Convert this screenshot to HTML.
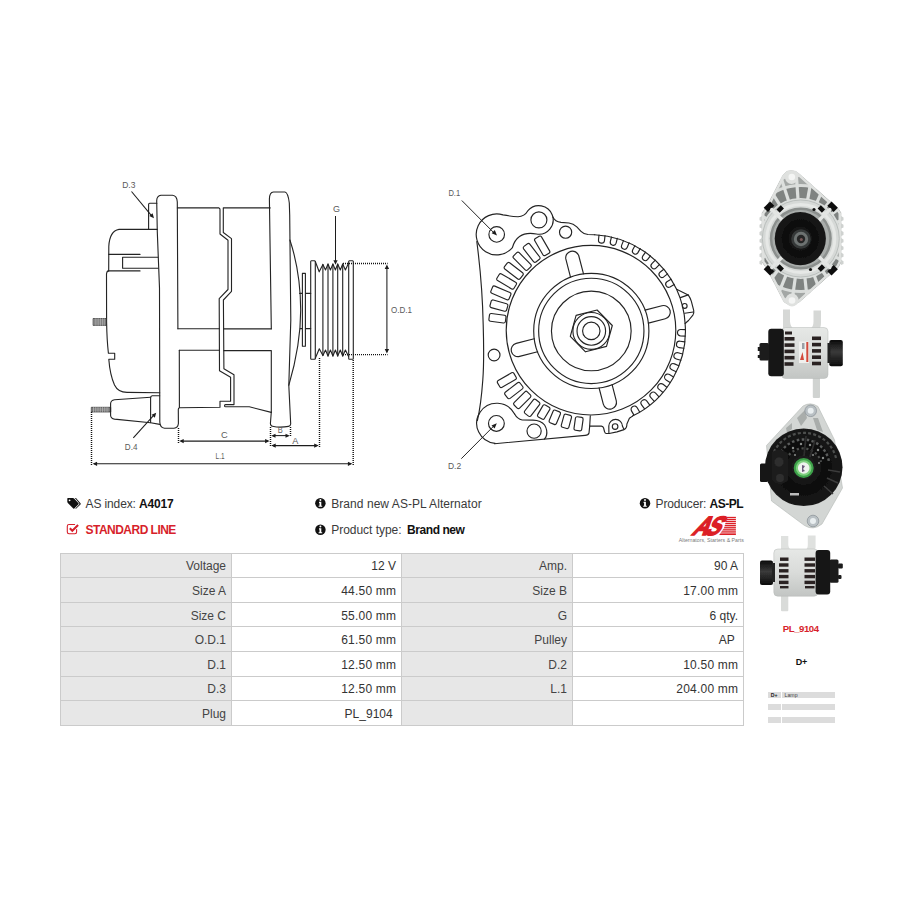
<!DOCTYPE html>
<html>
<head>
<meta charset="utf-8">
<title>A4017</title>
<style>
html,body{margin:0;padding:0;background:#fff;}
body{width:900px;height:900px;position:relative;overflow:hidden;font-family:"Liberation Sans",sans-serif;color:#333;}
.abs{position:absolute;white-space:nowrap;}
.t12{font-size:12px;line-height:14px;color:#3a3a3a;}
.t12 b{color:#111;}
#draw{position:absolute;left:0;top:0;width:900px;height:900px;}
table.spec{position:absolute;left:59.5px;top:552.7px;width:683px;border-collapse:collapse;table-layout:fixed;font-size:12px;color:#444;}
table.spec td{height:24.57px;padding:2px 4.5px 0 0;text-align:right;border:1px solid #cbcbcb;box-sizing:border-box;vertical-align:middle;line-height:14px;}
table.spec td.l{background:#e7e7e7;}
table.spec td.v{background:#fff;color:#333;}
table.spec td.m{letter-spacing:0.2px;padding-right:4.3px;}
</style>
</head>
<body>
<!--DRAW-->
<svg id="draw" viewBox="0 0 900 900">
<!--SIDE-->
<g id="side" fill="none" stroke="#242424" stroke-width="1.12" stroke-linejoin="round" stroke-linecap="round">
<!-- rear cover -->
<path d="M157.2,229.400 L119,229.400 Q109.600,231 108.800,246.500 L108.700,271"/>
<path d="M108.800,254.400 L140,254.400"/>
<path d="M108,270.900 L140,270.900"/>
<path d="M157.800,257.200 L122.600,257.200 L122.600,268.300 L158.200,268.300"/>
<path d="M108.300,270.900 Q106.500,271.500 106.500,274 L106.600,322 Q106.900,340 108.400,353.300 L114.700,353.300 L114.700,359.300 L108.800,359.300 Q110,375 114.500,385 Q118,392.300 127,392.400 L159.700,392.800"/>
<!-- small tab D.3 -->
<path d="M156.800,203.300 L149.700,203.300 Q148.600,203.400 148.600,204.600 L148.600,229.400"/>
<!-- main left flange -->
<path d="M177.900,328.800 L177.300,202 Q177,195.800 172.500,195.300 L161,195.300 Q156.900,195.800 156.700,200.500 L157.300,232 L159.500,288 L159.800,422 Q160,427.700 164.500,428.200 L174,428.200 Q178,427.800 178.400,423.500 L178.300,409.500 Q178.300,408 179.400,407.800 L179.300,350.300"/>
<!-- studs -->
<rect x="93.500" y="318.500" width="13" height="6.900" fill="#777" stroke-width="0.700"/>
<path d="M95.200,318.500V325.400M97,318.500V325.400M98.800,318.500V325.400M100.600,318.500V325.400M102.400,318.500V325.400M104.200,318.500V325.400" stroke="#ddd" stroke-width="0.5"/>
<rect x="91.700" y="407.300" width="19" height="4.700" fill="#777" stroke-width="0.700"/>
<path d="M93.500,407.300V412M95.300,407.300V412M97.100,407.300V412M98.900,407.300V412M100.700,407.300V412M102.500,407.300V412M104.300,407.300V412M106.100,407.300V412M107.900,407.300V412" stroke="#ddd" stroke-width="0.5"/>
<!-- D.4 terminal -->
<path d="M150.600,397.200 L114.500,399.700 Q110.800,400.300 110.600,403.500 L110.600,415.500 Q110.900,418.600 114.500,419.100 L150.600,422.800 L159.800,424.400"/>
<path d="M159.700,395.800 L152.200,395.800 Q150.700,396 150.600,397.800 L150.600,422.600"/>
<!-- upper body rects -->
<path d="M177.400,207.900 L219,207.900 Q220,208.300 220,209.500 L220,234 L228,240.200 L228,289.500 L219.200,298.600 L219.500,370.700 L230.600,377.300 L230.600,401.300 L220,401.300 L220,407.200 L179.400,407.800"/>
<path d="M270.200,207.900 L223.300,207.900 L223.300,232.500 L231.500,238.600 L231.500,291.300 L223.400,300 L223.900,368.700 L234,374.700 L234,404.600 L225.600,404.600 Q224.500,404.700 224.500,405.700 Q224.500,406.800 225.700,406.800 L249.300,406.800 L271.200,412.400"/>
<path d="M177.900,328.700 L219.400,328.700 M223.600,328.900 L271.300,328.900"/>
<path d="M179.300,350.300 L219.400,350.300 M223.800,350.600 L271.300,350.600 L271.300,412.400"/>
<!-- right flange -->
<path d="M271.300,328.700 L269.400,199 Q269.500,192.300 273.500,192 L285,192 Q288,192.500 289.300,203 L289.700,215 L290.800,320 L288.800,385.300 L290.700,424 Q290.500,426.200 288.500,426.400 Q280,428 272.500,426.300 Q270.500,426 270.400,423.500 L271.300,412"/>
<path d="M289.900,240 Q300.500,272 300.700,310 Q300.700,345 288.800,385.300"/>
<!-- shaft + washer -->
<path d="M299.6,293.4 L310.7,293.4 M300.2,328.6 L310.7,328.6"/>
<rect x="302.4" y="273.4" width="3" height="72.8" fill="#fff"/>
<!-- pulley -->
<path d="M315.300,261.500 L319.200,271.800 L322.900,264.400 L325.5,270 L328,264 L330.4,270 L332.9,264 L335.4,270 L337.7,264 L340.3,270 L342.7,264 L345.4,270 L348.4,263.4"/>
<path d="M315.300,358.300 L319.300,348.800 L322.900,355.600 L325.5,350 L328,356 L330.4,350 L332.9,356 L335.4,350 L337.7,356 L340.3,350 L342.7,356 L345.4,350 L348.6,356.6"/>
<path d="M322.9,264.4V355.6M328,264V356M332.9,264V356M337.7,264V356M342.7,264V356"/>
<path d="M311.4,260.7 L314.6,260.7 Q315.3,260.8 315.3,261.6 L315.3,358.4 Q315.3,359.2 314.6,359.3 L311.4,359.3 Q310.7,359.2 310.7,358.4 L310.7,261.6 Q310.7,260.8 311.4,260.7 Z"/>
<path d="M349.4,260.7 L352.6,260.7 Q353.3,260.8 353.3,261.6 L353.3,358.4 Q353.3,359.2 352.6,359.3 L349.4,359.3 Q348.7,359.2 348.7,358.4 L348.7,261.6 Q348.7,260.8 349.4,260.7 Z"/>
</g>
<!-- dimension lines -->
<g fill="none" stroke="#1c1c1c" stroke-width="1.05">
<g stroke-dasharray="1 1" stroke-width="1.45" stroke="#111">
<path d="M91.5,412 V465"/>
<path d="M178.5,428 V443"/>
<path d="M270.5,427 V447"/>
<path d="M290.5,427 V437"/>
<path d="M319.5,358 V447"/>
<path d="M353.2,360 V466"/>
<path d="M343,263.500 H387.600"/>
<path d="M343,354.600 H387.600"/>
</g>
<path d="M94,463.8 H351"/>
<path d="M181,441.1 H268"/>
<path d="M273,435.6 H288"/>
<path d="M273,445.6 H317"/>
<path d="M386.900,268 V350"/>
<path d="M335.500,216 V261.500"/>
<path d="M131.5,191.5 L152.5,216.8"/>
<path d="M133.3,437.8 L154.8,414.2"/>
</g>
<g fill="#1c1c1c" stroke="none">
<path d="M92.600,463.800 l4.500,-2.100 v4.200z M352.400,463.800 l-4.500,-2.100 v4.200z"/>
<path d="M179.200,441.100 l4.500,-2.100 v4.200z M269.600,441.100 l-4.500,-2.100 v4.200z"/>
<path d="M271.200,435.700 l4.300,-2 v4z M289.800,435.700 l-4.300,-2 v4z"/>
<path d="M271.200,445.600 l4.500,-2.100 v4.200z M318.700,445.600 l-4.500,-2.100 v4.200z"/>
<path d="M386.900,264.600 l-2.200,4.500 h4.400z M386.900,353.600 l-2.200,-4.500 h4.400z"/>
<path d="M335.500,264.800 l-2.100,-4.500 h4.200z"/>
<path d="M154,218.200 l-4.700,-2.300 l3.300,-2.700z"/>
<path d="M156.200,412.700 l-1.400,5 l-3.200,-2.900z"/>
</g>
<g font-family="Liberation Sans, sans-serif" font-size="9.400" fill="#5a5a5a" stroke="none" lengthAdjust="spacingAndGlyphs">
<text x="122.200" y="187.900" textLength="13.200" lengthAdjust="spacingAndGlyphs">D.3</text>
<text x="124.800" y="450.300" textLength="12.600" lengthAdjust="spacingAndGlyphs">D.4</text>
<text x="333" y="211.600" textLength="7" lengthAdjust="spacingAndGlyphs">G</text>
<text x="391" y="313" textLength="21" lengthAdjust="spacingAndGlyphs">O.D.1</text>
<text x="221.100" y="437.800" textLength="6.700" lengthAdjust="spacingAndGlyphs">C</text>
<text x="277.800" y="433.300" font-size="8.400" textLength="5" lengthAdjust="spacingAndGlyphs">B</text>
<text x="292.200" y="443.900" font-size="8.800" textLength="6.100" lengthAdjust="spacingAndGlyphs">A</text>
<text x="215.600" y="458.900" textLength="8.900" lengthAdjust="spacingAndGlyphs">L.1</text>
</g>
<!--FRONT-->
<g id="front" fill="none" stroke="#242424" stroke-width="1.15" stroke-linejoin="round" stroke-linecap="round">
<circle cx="591.3" cy="330.9" r="8.7"/>
<circle cx="591.3" cy="330.9" r="14.3"/>
<circle cx="591.3" cy="330.9" r="18.4"/>
<circle cx="591.3" cy="330.9" r="39.85"/>
<circle cx="591.3" cy="330.9" r="52.65"/>
<circle cx="591.3" cy="330.9" r="57.6"/>
<circle cx="591" cy="330.2" r="84.8"/>
<path d="M612.3,325.5 L606.5,346.4 L585.5,351.8 L570.3,336.3 L576.1,315.4 L597.1,310.0 Z"/>
<path d="M645.0,310.1 L661.9,305.7 A6.7,6.7 0 0 1 665.3,318.7 L648.4,323.1"/>
<path d="M612.1,384.6 L616.3,400.8 A6.7,6.7 0 0 1 603.3,404.1 L599.1,388.0"/>
<path d="M537.6,351.7 L519.6,356.4 A6.7,6.7 0 0 1 516.2,343.4 L534.2,338.7"/>
<path d="M570.5,277.2 L565.8,258.9 A6.7,6.7 0 0 1 578.7,255.5 L583.5,273.8"/>
<path d="M503.5,323.0 L490.4,321.2 A1.7,1.7 0 0 1 488.9,319.3 L489.5,314.9 A1.7,1.7 0 0 1 491.4,313.5 L504.5,315.2 A1.7,1.7 0 0 1 506.0,317.1 L505.4,321.5 A1.7,1.7 0 0 1 503.5,323.0 Z"/>
<path d="M504.5,311.2 L491.2,307.6 A1.7,1.7 0 0 1 490.0,305.5 L491.2,301.2 A1.7,1.7 0 0 1 493.3,300.0 L506.6,303.7 A1.7,1.7 0 0 1 507.8,305.8 L506.6,310.0 A1.7,1.7 0 0 1 504.5,311.2 Z"/>
<path d="M506.9,299.7 L491.8,293.3 A1.7,1.7 0 0 1 490.9,291.1 L492.6,287.0 A1.7,1.7 0 0 1 494.8,286.1 L509.9,292.5 A1.7,1.7 0 0 1 510.8,294.7 L509.1,298.7 A1.7,1.7 0 0 1 506.9,299.7 Z"/>
<path d="M511.7,288.9 L497.6,280.6 A1.7,1.7 0 0 1 496.9,278.3 L499.2,274.5 A1.7,1.7 0 0 1 501.5,273.9 L515.6,282.2 A1.7,1.7 0 0 1 516.3,284.5 L514.0,288.3 A1.7,1.7 0 0 1 511.7,288.9 Z"/>
<path d="M517.8,279.0 L504.8,269.0 A1.7,1.7 0 0 1 504.5,266.6 L507.2,263.1 A1.7,1.7 0 0 1 509.6,262.8 L522.6,272.8 A1.7,1.7 0 0 1 522.9,275.2 L520.2,278.7 A1.7,1.7 0 0 1 517.8,279.0 Z"/>
<path d="M525.2,269.9 L513.6,258.2 A1.7,1.7 0 0 1 513.6,255.8 L516.8,252.7 A1.7,1.7 0 0 1 519.2,252.7 L530.7,264.4 A1.7,1.7 0 0 1 530.7,266.8 L527.6,269.9 A1.7,1.7 0 0 1 525.2,269.9 Z"/>
<path d="M533.5,261.7 L523.6,248.8 A1.7,1.7 0 0 1 524.0,246.4 L527.5,243.8 A1.7,1.7 0 0 1 529.8,244.1 L539.7,257.0 A1.7,1.7 0 0 1 539.4,259.3 L535.9,262.0 A1.7,1.7 0 0 1 533.5,261.7 Z"/>
<path d="M542.9,254.8 L534.8,240.8 A1.7,1.7 0 0 1 535.4,238.5 L539.2,236.3 A1.7,1.7 0 0 1 541.5,236.9 L549.6,250.9 A1.7,1.7 0 0 1 549.0,253.2 L545.2,255.4 A1.7,1.7 0 0 1 542.9,254.8 Z"/>
<path d="M515.5,379.5 L502.1,387.3 A1.7,1.7 0 0 1 499.8,386.7 L497.5,382.9 A1.7,1.7 0 0 1 498.2,380.6 L511.6,372.8 A1.7,1.7 0 0 1 513.9,373.4 L516.1,377.2 A1.7,1.7 0 0 1 515.5,379.5 Z"/>
<path d="M522.4,388.9 L510.1,398.4 A1.7,1.7 0 0 1 507.7,398.1 L505.0,394.6 A1.7,1.7 0 0 1 505.3,392.2 L517.6,382.7 A1.7,1.7 0 0 1 520.0,383.0 L522.7,386.5 A1.7,1.7 0 0 1 522.4,388.9 Z"/>
<path d="M530.4,397.3 L519.6,408.1 A1.7,1.7 0 0 1 517.2,408.1 L514.1,405.0 A1.7,1.7 0 0 1 514.1,402.6 L524.9,391.8 A1.7,1.7 0 0 1 527.3,391.8 L530.4,394.9 A1.7,1.7 0 0 1 530.4,397.3 Z"/>
<path d="M539.5,404.6 L530.9,415.8 A1.7,1.7 0 0 1 528.5,416.1 L525.0,413.4 A1.7,1.7 0 0 1 524.7,411.0 L533.3,399.8 A1.7,1.7 0 0 1 535.7,399.5 L539.2,402.2 A1.7,1.7 0 0 1 539.5,404.6 Z"/>
<path d="M549.7,409.6 L544.4,418.5 A1.7,1.7 0 0 1 542.1,419.1 L538.3,416.9 A1.7,1.7 0 0 1 537.7,414.6 L542.9,405.6 A1.7,1.7 0 0 1 545.3,405.0 L549.1,407.2 A1.7,1.7 0 0 1 549.7,409.6 Z"/>
<path d="M560.4,414.1 L556.4,423.5 A1.7,1.7 0 0 1 554.2,424.4 L550.1,422.7 A1.7,1.7 0 0 1 549.2,420.5 L553.2,411.1 A1.7,1.7 0 0 1 555.4,410.2 L559.5,411.9 A1.7,1.7 0 0 1 560.4,414.1 Z"/>
<path d="M571.5,417.5 L568.8,427.3 A1.7,1.7 0 0 1 566.7,428.5 L562.5,427.3 A1.7,1.7 0 0 1 561.3,425.2 L564.0,415.4 A1.7,1.7 0 0 1 566.1,414.2 L570.3,415.4 A1.7,1.7 0 0 1 571.5,417.5 Z"/>
<path d="M583.1,419.3 L581.7,429.4 A1.7,1.7 0 0 1 579.8,430.9 L575.5,430.3 A1.7,1.7 0 0 1 574.0,428.4 L575.4,418.3 A1.7,1.7 0 0 1 577.3,416.8 L581.7,417.4 A1.7,1.7 0 0 1 583.1,419.3 Z"/>
<path d="M599.0,235.0 L598.5,239.8 A3.0,3.0 0 0 0 604.5,240.5 L605.0,235.6"/>
<path d="M611.5,237.0 L610.3,241.7 A3.0,3.0 0 0 0 616.1,243.2 L617.3,238.4"/>
<path d="M623.5,240.6 L621.7,245.1 A3.0,3.0 0 0 0 627.3,247.3 L629.1,242.7"/>
<path d="M634.9,245.7 L632.6,250.0 A3.0,3.0 0 0 0 637.8,252.9 L640.2,248.6"/>
<path d="M645.6,252.2 L642.7,256.2 A3.0,3.0 0 0 0 647.5,259.7 L650.4,255.8"/>
<path d="M655.3,260.1 L651.9,263.6 A3.0,3.0 0 0 0 656.2,267.8 L659.6,264.3"/>
<path d="M663.8,269.2 L660.0,272.2 A3.0,3.0 0 0 0 663.7,276.9 L667.6,273.9"/>
<path d="M671.1,279.3 L666.9,281.8 A3.0,3.0 0 0 0 670.0,286.9 L674.2,284.4"/>
<path d="M685.4,329.6 L680.8,329.5 A3.2,3.2 0 0 0 680.7,336.0 L685.3,336.1"/>
<path d="M684.8,341.9 L680.2,341.2 A3.2,3.2 0 0 0 679.2,347.6 L683.8,348.3"/>
<path d="M682.6,354.0 L678.1,352.7 A3.2,3.2 0 0 0 676.3,359.0 L680.8,360.3"/>
<path d="M678.8,365.7 L674.5,363.9 A3.2,3.2 0 0 0 671.9,369.8 L676.2,371.7"/>
<path d="M673.5,376.9 L669.5,374.5 A3.2,3.2 0 0 0 666.1,380.0 L670.1,382.4"/>
<path d="M666.8,387.2 L663.1,384.3 A3.2,3.2 0 0 0 659.1,389.4 L662.7,392.3"/>
<path d="M658.8,396.6 L655.6,393.2 A3.2,3.2 0 0 0 650.9,397.7 L654.1,401.1"/>
<path d="M649.6,404.8 L646.9,401.1 A3.2,3.2 0 0 0 641.6,404.9 L644.4,408.7"/>
<path d="M639.5,411.8 L637.2,407.7 A3.2,3.2 0 0 0 631.5,410.9 L633.8,414.9"/>
<path d="M594.7,234.7 A96.2,96.2 0 0 1 676.6,289.3 A94.6,94.6 0 0 1 685.1,323.5 A94.5,94.5 0 0 1 632.5,416.1"/>
<path d="M676.6,289.3 L688.2,294.9 Q690.3,298 691.3,301.1 L693.7,310.4 Q694.2,312.5 692.9,315.1 L688.5,320.5 L685.1,323.5"/>
<path d="M680.4,297.6 L688.2,294.9 M684.7,313.2 L693.3,312"/>
<circle cx="684.7" cy="305.9" r="2.4"/>
<path d="M632.5,416.1 L629.4,418.3 L626.9,424 Q627,428.2 624,429.6 L617,431.9 L609.2,433.5 L606.1,433.5 Q604.9,433.3 604.5,431.5 L603.6,428 Q603.2,426.2 601.4,426.1 L589.7,426.1"/>
<path d="M608.9,433.4 L608.8,426.1 A6.8,6.8 0 0 1 622.4,426.1 L624,429.6"/>
<circle cx="615.1" cy="426.5" r="2.8"/>
<path d="M590.3,415.8 L589.7,426.1 L589,433 Q588.3,435.2 585.1,435.4 L494.5,443.7"/>
<path d="M495.1,443.4 A20.1,20.1 0 1 1 514.6,414.0"/>
<path d="M514.6,414.0 Q517.2,418.8 522.2,420 L533,420.1 Q541,420.3 544.6,425 Q547.6,430 546.6,435 Q546,437.6 544.3,439.2"/>
<circle cx="496.4" cy="423.4" r="7.9"/>
<circle cx="534.1" cy="431.1" r="7.1"/>
<path d="M476.8,241.5 C479.5,262 482.6,295 483.2,325 C483.8,345 484.2,362 482.8,380 C481.5,398 479.8,410 477.4,420.500"/>
<circle cx="494.1" cy="355" r="5.9"/>
<path d="M512.4,247.6 A20.5,20.5 0 1 1 503.0,214.9 Q512,216.5 518,216.7 Q524.5,216.5 527.9,210.7 A14.3,14.3 0 1 1 536.4,234.0 Q526,232 519.5,236.5 Q514.5,240 512.4,247.6"/>
<circle cx="496.7" cy="234.4" r="7.8"/>
<circle cx="538.9" cy="219.9" r="8"/>
<circle cx="565.6" cy="232.2" r="6.1"/>
<path d="M552.9,216.9 Q555,221.5 561,222.4 L569,223 Q573.3,223.5 576.8,226.8 L581,231.4 Q583.6,234.2 588,234.5 L594.7,234.7"/>
</g>
<g fill="none" stroke="#262626" stroke-width="1"><path d="M461.800,200.500 L493.500,232.400"/><path d="M461.300,458.700 L493.800,426"/></g>
<g fill="#1c1c1c" stroke="none"><path d="M497,235.400 l-5.300,-2.200 l3.100,-3.100z"/><path d="M496.800,423.200 l-2.200,5.300 l-3.100,-3.100z"/></g>
<g font-family="Liberation Sans, sans-serif" font-size="9.400" fill="#5a5a5a" stroke="none"><text x="448.400" y="196.100" textLength="11.800" lengthAdjust="spacingAndGlyphs">D.1</text><text x="448" y="469" textLength="13.200" lengthAdjust="spacingAndGlyphs">D.2</text></g>
<!--PHOTOS-->
<defs>
<radialGradient id="gBlk" cx="50%" cy="50%" r="50%"><stop offset="0" stop-color="#2a2a2a"/><stop offset="0.55" stop-color="#0c0c0c"/><stop offset="1" stop-color="#1a1a1a"/></radialGradient>
<linearGradient id="gBody" x1="0" y1="0" x2="0" y2="1"><stop offset="0" stop-color="#e6e8e6"/><stop offset="0.5" stop-color="#d9dbd9"/><stop offset="1" stop-color="#c2c5c3"/></linearGradient>
<linearGradient id="gPul" x1="0" y1="0" x2="0" y2="1"><stop offset="0" stop-color="#0a0a0a"/><stop offset="0.45" stop-color="#3a3a3a"/><stop offset="1" stop-color="#0a0a0a"/></linearGradient>
<filter id="soft" x="-5%" y="-5%" width="110%" height="110%"><feGaussianBlur stdDeviation="0.45"/></filter>
</defs>
<!-- photo 1 : front -->
<g id="ph1" filter="url(#soft)">
<clipPath id="cpK"><path d="M786.5,171.500 Q791,169.500 796,171.500 L800,174.500 L838.500,209 L841,213 L841,262 L838.500,267 L800,301.500 Q792,308 784,302 L766.500,268 L762,262 L762,213 L766.500,207 L783,175 Z"/></clipPath>
<path d="M786.5,171.500 Q791,169.500 796,171.500 L800,174.500 L838.500,209 L841,213 L841,262 L838.500,267 L800,301.500 Q792,308 784,302 L766.500,268 L762,262 L762,213 L766.500,207 L783,175 Z" fill="#d9dcda" stroke="#bcc0be" stroke-width="0.6"/>
<path d="M762,216 l-2.500,1.500 v2.800 l2.500,1 v2 l-2.500,1.500 v2.800 l2.500,1 v2 l-2.500,1.500 v2.800 l2.500,1 v2 l-2.500,1.500 v2.800 l2.500,1 v2 l-2.500,1.500 v2.800 l2.500,1 v2 l-2.500,1.500 v2.800 l2.500,1 v2 l-2.500,1.500 v2.800 l2.500,1z" fill="#cfd2d0"/>
<path d="M841,216 l2.500,1.500 v2.800 l-2.500,1 v2 l2.500,1.500 v2.800 l-2.500,1 v2 l2.500,1.500 v2.800 l-2.500,1 v2 l2.500,1.500 v2.800 l-2.500,1 v2 l2.500,1.500 v2.800 l-2.500,1 v2 l2.500,1.500 v2.800 l-2.500,1 v2 l2.500,1.500 v2.800 l-2.500,1z" fill="#cfd2d0"/>
<g clip-path="url(#cpK)">
<circle cx="800.8" cy="238.5" r="46" fill="none" stroke="#7f8381" stroke-width="11"/>
<circle cx="800.8" cy="238.5" r="58" fill="none" stroke="#a3a7a5" stroke-width="7"/>
<path d="M838.8,238.5 L870.8,238.5" stroke="#dcdfdd" stroke-width="3.2"/>
<path d="M837.7,247.7 L868.7,255.4" stroke="#dcdfdd" stroke-width="3.2"/>
<path d="M834.4,256.3 L862.6,271.4" stroke="#dcdfdd" stroke-width="3.2"/>
<path d="M829.0,263.9 L852.8,285.3" stroke="#dcdfdd" stroke-width="3.2"/>
<path d="M822.0,270.0 L839.9,296.5" stroke="#dcdfdd" stroke-width="3.2"/>
<path d="M813.8,274.2 L824.7,304.3" stroke="#dcdfdd" stroke-width="3.2"/>
<path d="M804.8,276.3 L808.1,308.1" stroke="#dcdfdd" stroke-width="3.2"/>
<path d="M795.5,276.1 L791.1,307.8" stroke="#dcdfdd" stroke-width="3.2"/>
<path d="M786.6,273.7 L774.6,303.4" stroke="#dcdfdd" stroke-width="3.2"/>
<path d="M778.5,269.2 L759.7,295.1" stroke="#dcdfdd" stroke-width="3.2"/>
<path d="M771.7,262.9 L747.2,283.5" stroke="#dcdfdd" stroke-width="3.2"/>
<path d="M766.6,255.2 L737.9,269.2" stroke="#dcdfdd" stroke-width="3.2"/>
<path d="M763.6,246.4 L732.3,253.1" stroke="#dcdfdd" stroke-width="3.2"/>
<path d="M762.8,237.2 L730.8,236.1" stroke="#dcdfdd" stroke-width="3.2"/>
<path d="M764.3,228.0 L733.5,219.2" stroke="#dcdfdd" stroke-width="3.2"/>
<path d="M767.9,219.5 L740.2,203.5" stroke="#dcdfdd" stroke-width="3.2"/>
<path d="M773.5,212.1 L750.4,189.9" stroke="#dcdfdd" stroke-width="3.2"/>
<path d="M780.7,206.3 L763.7,179.1" stroke="#dcdfdd" stroke-width="3.2"/>
<path d="M789.1,202.4 L779.2,171.9" stroke="#dcdfdd" stroke-width="3.2"/>
<path d="M798.1,200.6 L795.9,168.7" stroke="#dcdfdd" stroke-width="3.2"/>
<path d="M807.4,201.1 L813.0,169.6" stroke="#dcdfdd" stroke-width="3.2"/>
<path d="M816.3,203.8 L829.3,174.6" stroke="#dcdfdd" stroke-width="3.2"/>
<path d="M824.2,208.6 L843.9,183.3" stroke="#dcdfdd" stroke-width="3.2"/>
<path d="M830.7,215.1 L856.0,195.4" stroke="#dcdfdd" stroke-width="3.2"/>
<path d="M835.5,223.0 L864.7,210.0" stroke="#dcdfdd" stroke-width="3.2"/>
<path d="M838.2,231.9 L869.7,226.3" stroke="#dcdfdd" stroke-width="3.2"/>
<path d="M786.5,171.500 Q791,169.500 796,171.500 L800,174.500 L838.500,209 L841,213 L841,262 L838.500,267 L800,301.500 Q792,308 784,302 L766.500,268 L762,262 L762,213 L766.500,207 L783,175 Z" fill="none" stroke="#dfe1df" stroke-width="5"/>
</g>
<circle cx="791.5" cy="177.500" r="6.500" fill="#dfe1df"/><circle cx="792" cy="300" r="6.500" fill="#dfe1df"/>
<circle cx="800.8" cy="238.5" r="38.500" fill="#d6d9d7" stroke="#b3b7b5" stroke-width="0.8"/>
<circle cx="800.8" cy="238.5" r="34" fill="none" stroke="#e6e8e6" stroke-width="3"/>
<circle cx="800.8" cy="238.5" r="31" fill="#8b8f8d"/>
<circle cx="800.8" cy="238.5" r="28.500" fill="#a9adab"/>
<g fill="#0e0e0e">
<rect x="764.5" y="203.7" width="9" height="6" transform="rotate(-45 769.0 206.7)"/>
<rect x="777.2" y="206.8" width="6" height="4.500" transform="rotate(-45 780.2 209.0)"/>
<rect x="828.1" y="203.7" width="9" height="6" transform="rotate(45 832.6 206.7)"/>
<rect x="818.4" y="206.8" width="6" height="4.500" transform="rotate(45 821.4 209.0)"/>
<rect x="764.5" y="267.3" width="9" height="6" transform="rotate(225 769.0 270.3)"/>
<rect x="777.2" y="265.8" width="6" height="4.500" transform="rotate(225 780.2 268.0)"/>
<rect x="828.1" y="267.3" width="9" height="6" transform="rotate(135 832.6 270.3)"/>
<rect x="818.4" y="265.8" width="6" height="4.500" transform="rotate(135 821.4 268.0)"/>
</g>
<path d="M783.8,221.5 L771.8,209.5" stroke="#e3e5e3" stroke-width="3.400" stroke-linecap="round"/>
<path d="M817.8,221.5 L829.8,209.5" stroke="#e3e5e3" stroke-width="3.400" stroke-linecap="round"/>
<path d="M817.8,255.5 L829.8,267.5" stroke="#e3e5e3" stroke-width="3.400" stroke-linecap="round"/>
<path d="M783.8,255.5 L771.8,267.5" stroke="#e3e5e3" stroke-width="3.400" stroke-linecap="round"/>
<ellipse cx="800.300" cy="238.600" rx="25.600" ry="26.600" fill="url(#gBlk)"/>
<circle cx="801" cy="239" r="9.800" fill="#343838"/><circle cx="801" cy="239" r="7.200" fill="#6d7271"/><circle cx="801" cy="239" r="4.200" fill="#262828"/><circle cx="801.300" cy="239.500" r="1.500" fill="#7a5a5a"/>
<circle cx="791.800" cy="177" r="3.300" fill="#f4f5f4"/><circle cx="792" cy="300.500" r="3.300" fill="#f4f5f4"/>
<circle cx="814" cy="209.500" r="1.600" fill="#111"/><circle cx="810.500" cy="269.500" r="1.600" fill="#111"/>
</g>
<!-- photo 2 : side -->
<g id="ph2" filter="url(#soft)">
<path d="M783,309.5 h7 v12 q0.500,6 4,7 h16 q3.500,-1 3.500,-7 v-11 h7.500 v12 q0,5 -2,7 h-36 z" fill="#d6d8d6"/>
<rect x="812.8" y="376" width="7.200" height="22" rx="1" fill="#d0d3d1"/>
<rect x="781.5" y="327.500" width="46.500" height="51" rx="4" fill="url(#gBody)" stroke="#b5b9b7" stroke-width="0.5"/>
<rect x="768.300" y="328.800" width="15.500" height="47.500" rx="3" fill="#151515"/>
<rect x="759.500" y="343" width="9.500" height="17.500" rx="1.500" fill="#1b1b1b"/>
<rect x="757.800" y="347" width="3" height="4" fill="#1b1b1b"/><rect x="757.800" y="355" width="3" height="3" fill="#1b1b1b"/>
<rect x="829.300" y="340" width="13.500" height="26.200" rx="2" fill="url(#gPul)"/>
<rect x="827.500" y="343" width="3" height="20" fill="#222"/>
<g fill="#2a2322">
<rect x="784.500" y="337" width="10" height="3.600"/><rect x="784.500" y="343.300" width="10" height="3.600"/><rect x="784.500" y="349.600" width="10" height="3.600"/><rect x="784.500" y="355.900" width="10" height="3.600"/><rect x="784.500" y="362.200" width="9" height="3.600"/><rect x="785" y="331.500" width="7" height="3"/>
<rect x="812" y="336.500" width="9" height="3.600"/><rect x="812" y="342.800" width="9" height="3.600"/><rect x="812" y="349.100" width="9" height="3.600"/><rect x="812" y="355.400" width="9" height="3.600"/><rect x="812" y="361.700" width="9" height="3.600"/>
</g>
<rect x="799" y="341.500" width="10" height="21.500" fill="#f0f0ee"/>
<rect x="806.300" y="342" width="2" height="20" fill="#d24a3a"/>
<path d="M800,360 l2.500,-8 l1.500,8z" fill="#d24a3a"/>
<rect x="802" y="343" width="2.500" height="6" fill="#9b9fa5"/>
</g>
<!-- photo 3 : rear -->
<g id="ph3" filter="url(#soft)">
<path d="M803,406 Q810.500,401.500 818,406.500 L834.500,440 L842.500,488 L822,524 Q813,531 804.500,525.500 L771.500,501 L766.500,445.500 Z" fill="#d3d6d4" stroke="#b4b8b6" stroke-width="0.6"/>
<path d="M797,418 l8,-8 l2,8 l-6,8z M813,418 l5,0 l5,14 l-6,-2z M786,428 l6,-5 l0,6 l-5,4z" fill="#a9adab"/>
<circle cx="810.700" cy="410.800" r="5.800" fill="#b9c0c4" stroke="#8f979c" stroke-width="0.8"/>
<circle cx="810.700" cy="410.800" r="3" fill="#e9eef0"/>
<circle cx="813" cy="521" r="5.800" fill="#b9c0c4" stroke="#8f979c" stroke-width="0.8"/>
<circle cx="813" cy="521" r="3" fill="#e9eef0"/>
<circle cx="803.700" cy="467.300" r="38.800" fill="url(#gBlk)"/>
<rect x="760" y="463.500" width="8" height="18.500" rx="1.500" fill="#141414"/>
<g fill="none" stroke="#4d4f4e">
<path d="M774,452 A33,33 0 0 1 836,458" stroke-width="2.200" stroke-dasharray="3 2.200"/>
<path d="M781,452 A26,26 0 0 1 829,462" stroke-width="2.400" stroke-dasharray="2.600 2.400" stroke="#5a5c5b"/>
<path d="M789,455 A18.500,18.500 0 0 1 821,462" stroke-width="2.200" stroke-dasharray="2.200 2.600"/>
<path d="M828,470 l12,2 M827,478 l11,5 M824,486 l9,8" stroke-width="1.600" stroke="#3c3c3c"/>
<path d="M806,436 l-2,20 M815,440 l-5,17" stroke-width="1.800" stroke="#2e2e2e"/>
</g>
<path d="M772,452 q8,-6 16,2 v26 q-8,8 -16,0z" fill="#1f1f1f"/>
<circle cx="779" cy="462" r="4.500" fill="#2e2e2e"/><circle cx="780" cy="478" r="4" fill="#2e2e2e"/>
<g fill="#8a8d8b"><circle cx="793" cy="448" r="1.200"/><circle cx="801" cy="444" r="1.200"/><circle cx="810" cy="445" r="1.200"/><circle cx="818" cy="450" r="1.200"/><circle cx="823" cy="458" r="1.200"/><circle cx="795" cy="455" r="1"/><circle cx="813" cy="455" r="1"/><circle cx="819" cy="463" r="1"/></g>
<path d="M790,493 h9 v2.500 h-9z" fill="#bbb"/>
<circle cx="803.700" cy="468" r="10" fill="#3da24a"/>
<circle cx="803.700" cy="468" r="7.800" fill="#7fd07f"/>
<circle cx="803.700" cy="468" r="5.800" fill="#eef2ee"/>
<path d="M802,465 l3,1 l-2,3 l2,2 l-3,1z" fill="#6a5a7a"/>
</g>
<!-- photo 4 : side flipped -->
<g id="ph4" filter="url(#soft)">
<path d="M781,536 h7.300 v9 q0.500,4.500 4,5 h12 q3.500,-0.500 3.500,-5 v-9.500 h7.800 v11 q0,4 -2,5 h-32.600 z" fill="#dfe1df"/>
<rect x="781" y="595" width="7.300" height="16.300" rx="1" fill="#d9dbd9"/>
<rect x="773.800" y="549" width="44.200" height="47.200" rx="4" fill="url(#gBody)" stroke="#b5b9b7" stroke-width="0.5"/>
<rect x="815.600" y="550" width="14.600" height="44.500" rx="3" fill="#151515"/>
<rect x="829.500" y="559.500" width="9" height="23.300" rx="1.500" fill="#1b1b1b"/>
<rect x="838" y="563.500" width="4.800" height="5" rx="1" fill="#1b1b1b"/><rect x="838" y="575" width="3.500" height="4" rx="1" fill="#1b1b1b"/>
<rect x="760" y="560.500" width="13" height="24.500" rx="2" fill="url(#gPul)"/>
<rect x="772" y="563" width="3" height="19" fill="#222"/>
<g fill="#2a2322">
<rect x="780" y="557.500" width="8.500" height="3.400"/><rect x="779" y="563.300" width="9.500" height="3.400"/><rect x="779" y="569.100" width="9.500" height="3.400"/><rect x="779" y="574.900" width="9.500" height="3.400"/><rect x="779" y="580.700" width="9.500" height="3.400"/><rect x="780" y="586" width="8.500" height="2.400"/>
<rect x="804.500" y="557.500" width="10.500" height="3.400"/><rect x="804.500" y="563.300" width="10.500" height="3.400"/><rect x="804.500" y="569.100" width="10.500" height="3.400"/><rect x="804.500" y="574.900" width="10.500" height="3.400"/><rect x="804.500" y="580.700" width="10.500" height="3.400"/><rect x="805" y="586" width="9.500" height="2.400"/>
</g>
</g>
<!--ICONS-->
<!-- tag icon -->
<g fill="#111">
<path d="M67.300,498.700 Q67.300,498.100 67.900,498.100 L72.900,498.100 Q73.600,498.100 74.100,498.600 L78.500,503.300 Q79,503.800 78.500,504.300 L74.300,508.400 Q73.800,508.900 73.300,508.400 L67.800,502.900 Q67.300,502.400 67.300,501.800 Z"/>
<path d="M74.900,498.100 L76,498.100 L80.500,503.200 Q81,503.800 80.500,504.400 L76.300,508.500 Q75.800,508.900 75.300,508.600 L79.200,504.600 Q79.700,503.800 79.200,503.200 Z"/>
</g>
<circle cx="69.600" cy="500.300" r="0.900" fill="#fff"/>
<!-- check square -->
<path d="M76.600,529.600 L76.600,532 Q76.600,533.700 74.900,533.700 L69,533.700 Q67.300,533.700 67.300,532 L67.300,526.200 Q67.300,524.500 69,524.500 L74.600,524.500" fill="none" stroke="#d71f2b" stroke-width="1.100" stroke-linecap="round"/>
<path d="M69.800,528.300 L72.300,530.800 L78.100,525" fill="none" stroke="#d71f2b" stroke-width="2"/>
<!-- info icons -->
<g>
<circle cx="320.400" cy="503.300" r="5.250" fill="#111"/>
<circle cx="320.400" cy="500" r="0.950" fill="#fff"/>
<path d="M319,501.800 h2.300 v3.900 h0.900 v1.100 h-3.600 v-1.100 h0.900 v-2.800 h-0.500z" fill="#fff"/>
</g>
<g transform="translate(0,26.500)">
<circle cx="320.400" cy="503.300" r="5.250" fill="#111"/>
<circle cx="320.400" cy="500" r="0.950" fill="#fff"/>
<path d="M319,501.800 h2.300 v3.900 h0.900 v1.100 h-3.600 v-1.100 h0.900 v-2.800 h-0.500z" fill="#fff"/>
</g>
<g transform="translate(324.600,0)">
<circle cx="320.400" cy="503.300" r="5.250" fill="#111"/>
<circle cx="320.400" cy="500" r="0.950" fill="#fff"/>
<path d="M319,501.800 h2.300 v3.900 h0.900 v1.100 h-3.600 v-1.100 h0.900 v-2.800 h-0.500z" fill="#fff"/>
</g>
<!-- AS logo -->
<g fill="#dc1f26">
<text transform="translate(691,535.300) skewX(-33) scale(0.800,1)" font-family="Liberation Sans, sans-serif" font-weight="bold" font-size="26.500" letter-spacing="-3.200" stroke="#dc1f26" stroke-width="1.700">AS</text>
<clipPath id="cpS"><path d="M727.300,516.500 L735.900,516.500 L735.900,535.400 L718.800,535.400 L724,528 Z"/></clipPath>
<g clip-path="url(#cpS)">
<rect x="715" y="516.700" width="21" height="1.350"/><rect x="715" y="518.780" width="21" height="1.350"/><rect x="715" y="520.860" width="21" height="1.350"/><rect x="715" y="522.940" width="21" height="1.350"/><rect x="715" y="525.020" width="21" height="1.350"/><rect x="715" y="527.100" width="21" height="1.350"/><rect x="715" y="529.180" width="21" height="1.350"/><rect x="715" y="531.260" width="21" height="1.350"/><rect x="715" y="533.340" width="21" height="1.700"/>
</g>
</g>
<text x="678.800" y="542.400" font-family="Liberation Sans, sans-serif" font-size="4.700" fill="#7a7a7a" textLength="65" lengthAdjust="spacingAndGlyphs">Alternators, Starters &amp; Parts</text>
</svg>

<div class="abs t12" style="left:85.5px;top:496.6px;letter-spacing:-0.12px;">AS index: <b style="letter-spacing:-0.2px">A4017</b></div>
<div class="abs" style="left:85.5px;top:522.7px;font-size:12px;line-height:14px;font-weight:bold;color:#d71f2b;letter-spacing:-0.52px;">STANDARD LINE</div>
<div class="abs t12" style="left:331.2px;top:496.6px;letter-spacing:0.06px;">Brand new AS-PL Alternator</div>
<div class="abs t12" style="left:331.2px;top:522.7px;letter-spacing:-0.03px;">Product type: <b style="letter-spacing:-0.45px;margin-left:2.3px">Brand new</b></div>
<div class="abs t12" style="left:655.6px;top:496.6px;letter-spacing:-0.15px;">Producer: <b style="letter-spacing:-0.45px">AS-PL</b></div>

<table class="spec">
<colgroup><col style="width:171px"><col style="width:170px"><col style="width:171px"><col style="width:171px"></colgroup>
<tr><td class="l">Voltage</td><td class="v">12 V</td><td class="l">Amp.</td><td class="v">90 A</td></tr>
<tr><td class="l">Size A</td><td class="v m">44.50 mm</td><td class="l">Size B</td><td class="v m">17.00 mm</td></tr>
<tr><td class="l">Size C</td><td class="v m">55.00 mm</td><td class="l">G</td><td class="v">6 qty.</td></tr>
<tr><td class="l">O.D.1</td><td class="v m">61.50 mm</td><td class="l">Pulley</td><td class="v">AP&nbsp;</td></tr>
<tr><td class="l">D.1</td><td class="v m">12.50 mm</td><td class="l">D.2</td><td class="v m">10.50 mm</td></tr>
<tr><td class="l">D.3</td><td class="v m">12.50 mm</td><td class="l">L.1</td><td class="v m">204.00 mm</td></tr>
<tr><td class="l">Plug</td><td class="v">PL_9104&nbsp;</td><td class="l"></td><td class="v"></td></tr>
</table>

<div class="abs" style="left:782.8px;top:622.6px;font-size:9.6px;line-height:12px;font-weight:bold;color:#d71f2b;letter-spacing:-0.46px;">PL_9104</div>
<div class="abs" style="left:795.7px;top:656.3px;font-size:9px;line-height:12px;font-weight:bold;color:#111;letter-spacing:-0.3px;">D+</div>

<div class="abs" style="left:768px;top:692px;width:13px;height:6px;background:#dcdcdc;"></div>
<div class="abs" style="left:782px;top:692px;width:53px;height:6px;background:#dcdcdc;"></div>
<div class="abs" style="left:768px;top:704px;width:13px;height:6px;background:#dcdcdc;"></div>
<div class="abs" style="left:782px;top:704px;width:53px;height:6px;background:#dcdcdc;"></div>
<div class="abs" style="left:768px;top:716.5px;width:13px;height:6.5px;background:#dcdcdc;"></div>
<div class="abs" style="left:782px;top:716.5px;width:53px;height:6.5px;background:#dcdcdc;"></div>
<div class="abs" style="left:770.8px;top:691.5px;font-size:5.2px;line-height:7px;font-weight:bold;color:#222;">D+</div>
<div class="abs" style="left:784.6px;top:691.5px;font-size:5.2px;line-height:7px;color:#444;">Lamp</div>
</body>
</html>
